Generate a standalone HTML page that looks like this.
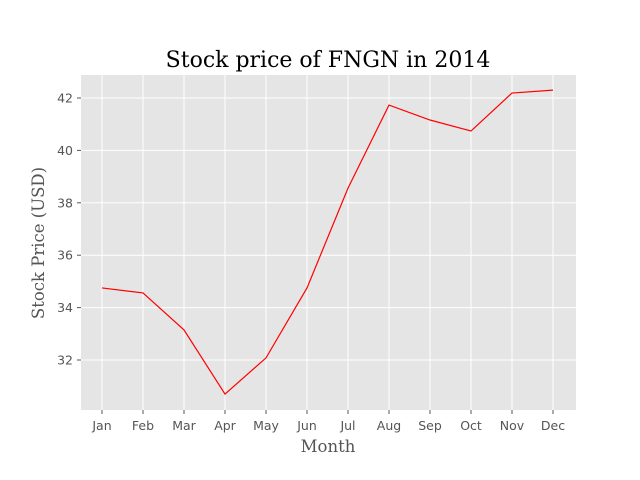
<!DOCTYPE html>
<html><head><meta charset="utf-8"><style>
html,body{margin:0;padding:0;background:#fff;}
svg{display:block;}
</style></head><body>
<svg id="chart" width="640" height="480" xmlns="http://www.w3.org/2000/svg">
<rect x="0" y="0" width="640" height="480" fill="#ffffff"/>
<text x="328" y="67" text-anchor="middle" font-family="'DejaVu Serif','Liberation Serif',serif" font-size="22" fill="#000">Stock price of FNGN in 2014</text>
<g id="plot"></g>
<text x="328" y="452" text-anchor="middle" font-family="'DejaVu Serif','Liberation Serif',serif" font-size="16.5" fill="#555">Month</text>
<text transform="translate(44,243) rotate(-90)" text-anchor="middle" font-family="'DejaVu Serif','Liberation Serif',serif" font-size="16.5" fill="#555">Stock Price (USD)</text>
</svg>
<script>
const months = ["Jan","Feb","Mar","Apr","May","Jun","Jul","Aug","Sep","Oct","Nov","Dec"];
const prices = [34.75,34.56,33.15,30.7,32.08,34.75,38.56,41.73,41.16,40.74,42.19,42.3];
const yTicks = [32,34,36,38,40,42];

const NS = "http://www.w3.org/2000/svg";
const L = 81, R = 576, T = 75, B = 410;
const xAt = i => 102 + i * (553 - 102) / (months.length - 1);
const yAt = v => 360 - (v - 32) * 26.2;
const g = document.getElementById('plot');
function mk(tag, attrs){const e=document.createElementNS(NS,tag);for(const k in attrs)e.setAttribute(k,attrs[k]);g.appendChild(e);return e;}

const bg = mk('rect',{x:L,y:T,width:R-L,height:B-T,fill:'#e5e5e5'});



yTicks.forEach(v=>{
  const y=yAt(v);
  const gl=mk('line',{x1:L,x2:R,y1:y,y2:y,stroke:'#fff','stroke-width':1});
  
  
  const tk=mk('line',{x1:L-4,x2:L,y1:y,y2:y,stroke:'#555'});
  
  
  const t=mk('text',{x:L-8,y:y+4.5,'text-anchor':'end','font-family':"'DejaVu Sans','Liberation Sans',sans-serif",'font-size':12.5,fill:'#555'});
  t.textContent=v;
  
  
});
months.forEach((m,i)=>{
  const x=xAt(i);
  const gl=mk('line',{x1:x,x2:x,y1:T,y2:B,stroke:'#fff','stroke-width':1});
  
  
  const tk=mk('line',{x1:x,x2:x,y1:B,y2:B+4,stroke:'#555'});
  
  
  const t=mk('text',{x:x,y:B+20,'text-anchor':'middle','font-family':"'DejaVu Sans','Liberation Sans',sans-serif",'font-size':12.5,fill:'#555'});
  t.textContent=m;
  
  
});
const pts = prices.map((v,i)=>xAt(i)+','+yAt(v)).join(' ');
const line = mk('polyline',{points:pts,fill:'none',stroke:'#ff0000','stroke-width':1.2});


</script>
</body></html>
